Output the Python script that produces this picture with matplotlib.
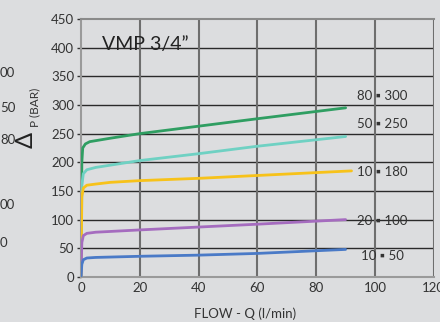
import matplotlib
matplotlib.use("Agg")
import matplotlib.pyplot as plt

# Data
flow_8030 = [0, 0.3, 0.6, 1.5, 3, 10, 20, 40, 60, 90]
dp_8030 = [0, 200, 225, 232, 236, 242, 250, 263, 276, 295]
flow_5025 = [0, 0.3, 0.8, 2, 5, 20, 40, 60, 90]
dp_5025 = [0, 160, 180, 187, 191, 203, 215, 228, 245]
flow_1018 = [0, 0.3, 0.8, 2, 5, 10, 20, 40, 60, 92]
dp_1018 = [0, 140, 155, 160, 162, 165, 168, 172, 177, 185]
flow_2010 = [0, 0.3, 0.8, 2, 5, 20, 40, 60, 90]
dp_2010 = [0, 60, 72, 76, 78, 82, 87, 92, 100]
flow_1050 = [0, 0.3, 0.8, 2, 5, 20, 40, 60, 90]
dp_1050 = [0, 22, 30, 33, 34, 36, 38, 41, 48]

series_labels = ["80 \u25aa 300", "50 \u25aa 250", "10 \u25aa 180", "20 \u25aa 100", "10 \u25aa 50"]
label_y = [316, 267, 183, 97, 37]
xticks = [0, 20, 40, 60, 80, 100, 120]
yticks = [0, 50, 100, 150, 200, 250, 300, 350, 400, 450]

colors = ["#2f9e62", "#6fd1c3", "#f7c21a", "#a56cbf", "#4a7ac7"]
bg = "#dcdddf"
plt.rcParams['font.family'] = ['Lato', 'DejaVu Sans']

fig = plt.figure(figsize=(4.4, 3.22), dpi=100, facecolor=bg)
ax = fig.add_axes([0.184, 0.140, 0.802, 0.801], facecolor=bg)

ax.set_xlim(0, 120)
ax.set_ylim(0, 450)
ax.set_xticks(xticks)
ax.set_yticks(yticks)
for y in yticks[1:-1]:
    ax.axhline(y, color="#2a2a2a", lw=1.0, zorder=1)
for x in xticks[1:]:
    ax.axvline(x, color="#6e6e6e", lw=1.5, zorder=1)
ax.spines["top"].set_color("#8a8a8a"); ax.spines["top"].set_linewidth(1.5)
ax.spines["right"].set_visible(False)
ax.spines["left"].set_color("#9a9a9a"); ax.spines["left"].set_linewidth(1.5)
ax.spines["bottom"].set_color("#9a9a9a"); ax.spines["bottom"].set_linewidth(1.5)
ax.tick_params(axis="both", labelsize=9.5, colors="#333333", length=3, width=1, pad=2)
ax.tick_params(axis="x", length=0, pad=4)

data = [(flow_8030, dp_8030), (flow_5025, dp_5025), (flow_1018, dp_1018),
        (flow_2010, dp_2010), (flow_1050, dp_1050)]
for (fx, fy), c in zip(data, colors):
    ax.plot(fx, fy, color=c, lw=2.0, zorder=3, solid_capstyle="round")

for lab, yv in zip(series_labels, label_y):
    ax.text(102.5, yv, lab, ha="center", va="center", fontsize=9.5, color="#333333", zorder=4)

ax.text(7, 405, "VMP 3/4\u201d", fontsize=14, color="#222222", ha="left", va="center", zorder=4)

ax.set_xlabel("FLOW - Q (l/min)", fontsize=9.5, color="#333333")
ax.xaxis.set_label_coords(0.465, -0.12)

# y label: big Delta and small P (BAR)
fig.text(0.060, 0.565, "\u0394", fontsize=17, rotation=90, ha="center", va="center", color="#222222")
fig.text(0.080, 0.665, "P (BAR)", fontsize=8.5, rotation=90, ha="center", va="center", color="#333333")

# cropped neighbour-chart labels at left edge
for t, yy in [("00", 73), ("50", 108), ("80", 140), ("00", 205), ("0", 243)]:
    fig.text(0.0, 1 - yy / 322, t, fontsize=9.5, ha="left", va="center", color="#333333")

fig.savefig("out.png", dpi=100, facecolor=bg)
